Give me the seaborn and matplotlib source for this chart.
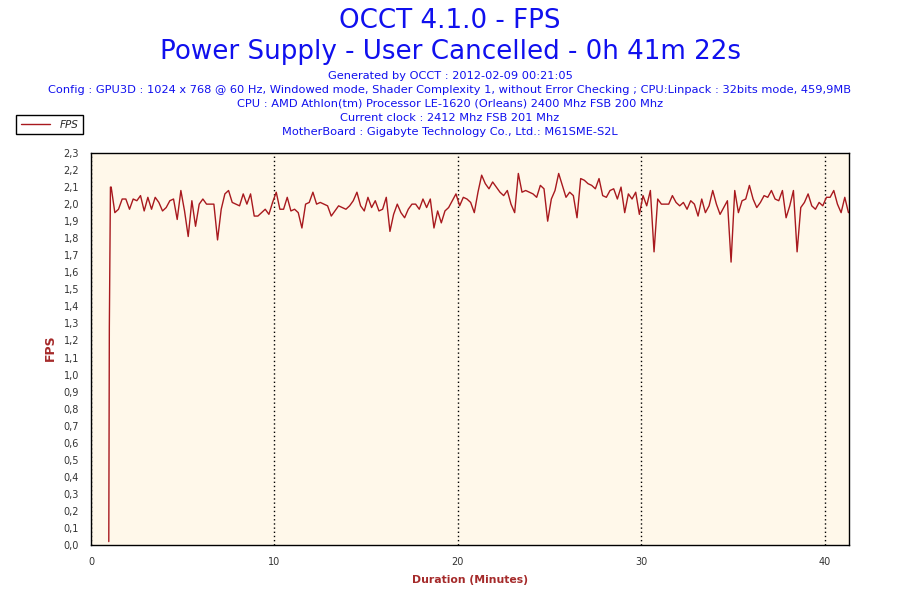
import numpy as np
import pandas as pd
import matplotlib
matplotlib.use('Agg')
import matplotlib.pyplot as plt
import seaborn as sns
from matplotlib.ticker import MultipleLocator, FuncFormatter

# NOTE: texts
title = 'OCCT 4.1.0 - FPS'
subtitle = 'Power Supply - User Cancelled - 0h 41m 22s'
info_lines = [
    'Generated by OCCT : 2012-02-09 00:21:05',
    'Config : GPU3D : 1024 x 768 @ 60 Hz, Windowed mode, Shader Complexity 1, without Error Checking ; CPU:Linpack : 32bits mode, 459,9MB',
    'CPU : AMD Athlon(tm) Processor LE-1620 (Orleans) 2400 Mhz FSB 200 Mhz',
    'Current clock : 2412 Mhz FSB 201 Mhz',
    'MotherBoard : Gigabyte Technology Co., Ltd.: M61SME-S2L',
]

# NOTE: data
# start-up ramp
ramp_minutes = [0.97, 1.0, 1.06]
ramp_fps = [0.02, 1.28, 2.10]

# then one sample every 0.2 min, from 1.1 min on
sample_start = 1.1
sample_step = 0.2

fps_01_07 = [2.10, 1.95, 1.97, 2.03, 2.03, 1.97, 2.03, 2.02, 2.05, 1.96,
             2.04, 1.97, 2.04, 2.01, 1.96, 1.98, 2.02, 2.03, 1.91, 2.08,
             1.96, 1.81, 2.02, 1.87, 2.00, 2.03, 2.00, 2.00, 2.00, 1.79]
fps_07_14 = [1.97, 2.06, 2.08, 2.01, 2.00, 1.99, 2.06, 2.00, 2.06, 1.93,
             1.93, 1.95, 1.97, 1.94, 2.01, 2.07, 1.97, 1.97, 2.04, 1.96,
             1.97, 1.95, 1.86, 2.00, 2.01, 2.07, 2.00, 2.01, 2.00, 1.99,
             1.93, 1.96, 1.99, 1.98]
fps_14_21 = [1.97, 1.99, 2.02, 2.07, 1.99, 1.96, 2.04, 1.98, 2.02, 1.96,
             1.97, 2.04, 1.84, 1.94, 2.00, 1.95, 1.92, 1.97, 2.00, 2.00,
             1.97, 2.03, 1.98, 2.03, 1.86, 1.96, 1.89, 1.96, 1.98, 2.02,
             2.06, 1.99, 2.04, 2.03]
fps_21_28 = [2.01, 1.95, 2.07, 2.17, 2.12, 2.09, 2.13, 2.10, 2.07, 2.05,
             2.08, 2.00, 1.95, 2.18, 2.07, 2.08, 2.07, 2.06, 2.04, 2.11,
             2.09, 1.90, 2.03, 2.08, 2.18, 2.11, 2.04, 2.07, 2.05, 1.92,
             2.15, 2.14, 2.12, 2.11, 2.09]
fps_28_34 = [2.15, 2.05, 2.04, 2.08, 2.09, 2.03, 2.10, 1.95, 2.06, 2.03,
             2.07, 1.94, 2.05, 1.99, 2.08, 1.72, 2.03, 2.00, 2.00, 2.00,
             2.05, 2.01, 1.99, 2.01, 1.97, 2.02, 2.00, 1.93, 2.03, 1.95,
             1.99, 2.08, 2.00, 1.94]
fps_34_41 = [1.98, 2.02, 1.66, 2.08, 1.95, 2.02, 2.03, 2.11, 2.03, 1.98,
             2.01, 2.05, 2.04, 2.08, 2.03, 2.02, 2.08, 1.92, 1.99, 2.08,
             1.72, 1.98, 2.01, 2.06, 1.99, 1.97, 2.01, 1.99, 2.04, 2.04,
             2.08, 2.00, 1.95, 2.04, 1.95]

samples = fps_01_07 + fps_07_14 + fps_14_21 + fps_21_28 + fps_28_34 + fps_34_41
sample_minutes = list(np.round(sample_start + sample_step * np.arange(len(samples)), 2))

df = pd.DataFrame({
    'minutes': ramp_minutes + sample_minutes,
    'fps': ramp_fps + samples,
})

# NOTE: style
sns.set_style('white')
plt.rcParams['font.family'] = ['DejaVu Sans']

blue = '#1010ee'
red_line = '#a8191e'
red_label = '#a52a2a'

fig = plt.figure(figsize=(9, 6), dpi=100)
ax = fig.add_axes([91 / 900, 55 / 600, 758 / 900, 392 / 600])
ax.set_facecolor('#fff8ea')

sns.lineplot(data=df, x='minutes', y='fps', ax=ax, color=red_line, lw=1.0,
             estimator=None, sort=False, label='FPS')

ax.set_xlim(0, 41.33)
ax.set_ylim(0, 2.3)
ax.xaxis.set_major_locator(MultipleLocator(10))
ax.xaxis.set_minor_locator(MultipleLocator(2))
ax.yaxis.set_major_locator(MultipleLocator(0.1))
ax.yaxis.set_minor_locator(MultipleLocator(0.05))
ax.yaxis.set_major_formatter(FuncFormatter(lambda v, p: f'{v:.1f}'.replace('.', ',')))
ax.tick_params(which='both', direction='out', colors='black', labelcolor='#333333', labelsize=7)
ax.tick_params(which='major', length=5, width=1)
ax.tick_params(which='minor', length=3, width=1)
ax.xaxis.grid(True, which='major', color='black', linestyle=(0, (1, 2)), lw=1)
for s in ax.spines.values():
    s.set_color('black')
    s.set_linewidth(1)
ax.set_xlabel('')
ax.set_ylabel('')

# NOTE: titles
fig.text(0.5, 1 - 21 / 600, title, ha='center', va='center', color=blue, fontsize=18.8)
fig.text(0.5, 1 - 52 / 600, subtitle, ha='center', va='center', color=blue, fontsize=18.8)
for i, line in enumerate(info_lines):
    fig.text(0.5, 1 - (76 + 14 * i) / 600, line, ha='center', va='center', color=blue, fontsize=8.2)

fig.text(50 / 900, 1 - 348 / 600, 'FPS', rotation=90, ha='center', va='center',
         color=red_label, fontsize=9, fontweight='bold')
fig.text(470 / 900, 1 - 580 / 600, 'Duration (Minutes)', ha='center', va='center',
         color=red_label, fontsize=7.8, fontweight='bold')

leg = ax.legend(loc='upper left', bbox_to_anchor=(16 / 900, 1 - 115 / 600),
                bbox_transform=fig.transFigure, borderaxespad=0, frameon=True, fancybox=False,
                framealpha=1, edgecolor='black', borderpad=0.45, handlelength=2.8,
                handletextpad=0.9, prop={'size': 7.5, 'style': 'italic'})
leg.get_frame().set_linewidth(1)

plt.savefig('out.png', dpi=100)
